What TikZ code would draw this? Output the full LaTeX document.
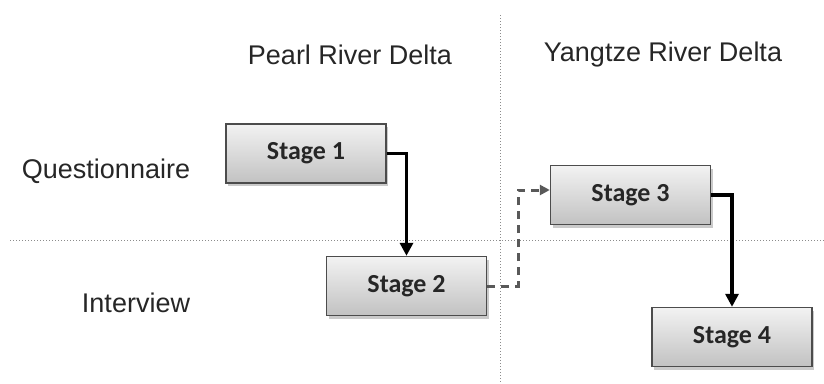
\documentclass[tikz,border=0pt]{standalone}
\usepackage{fontspec}
\setmainfont{Liberation Sans}
\newfontfamily\stagefont{Carlito}
\usetikzlibrary{arrows.meta,shadows,calc}
\begin{document}
\begin{tikzpicture}[x=1pt,y=-1pt,
  stagebox/.style={draw=black!70,line width=1.4pt,minimum width=160pt,minimum height=59pt,
    top color=black!5,bottom color=black!24,
    drop shadow={shadow xshift=2pt,shadow yshift=-3pt,fill=black!35,opacity=0.6},
    font=\stagefont\bfseries\fontsize{26}{30}\selectfont,text=black!85,inner sep=0pt},
  lbl/.style={font=\fontsize{27}{32}\selectfont,text=black!85,inner sep=0pt},
  grid/.style={draw=black!45,line width=0.9pt,dash pattern=on 1.2pt off 1.8pt},
  flow/.style={line width=3.2pt,-{Triangle[length=13pt,width=13pt]}},
  dflow/.style={line width=3pt,draw=black!65,dash pattern=on 8pt off 6pt,-{Triangle[length=10pt,width=10pt,fill=black!65]}}]
\useasboundingbox (0,0) rectangle (824,383);
\coordinate (vt) at (500,15);
\coordinate (vb) at (500,383);
\coordinate (hl) at (10,240);
\coordinate (hr) at (824,240);
\draw[grid] (vt) -- (vb);
\draw[grid] (hl) -- (hr);
\node[lbl] (pearl) at (350,55) {Pearl River Delta};
\node[lbl] (yang) at (663,55) {Yangtze River Delta};
\node[lbl] (quest) at (106,171) {Questionnaire};
\node[lbl] (inter) at (136,303) {Interview};
\node[stagebox] (s1) at (306,153.5) {Stage 1};
\node[stagebox] (s2) at (406.5,286) {Stage 2};
\node[stagebox] (s3) at (630.5,195) {Stage 3};
\node[stagebox] (s4) at (732,337) {Stage 4};
\draw[flow] (s1.east) -| (s2.north);
\draw[flow] (s3.east) -| (s4.north);
\coordinate (d1) at ($(s2.east)+(31,0)$);
\coordinate (d2) at ($(s3.west)+(0,-5)$);
\draw[dflow] (s2.east) -- (d1) |- (d2);
\end{tikzpicture}
\end{document}
